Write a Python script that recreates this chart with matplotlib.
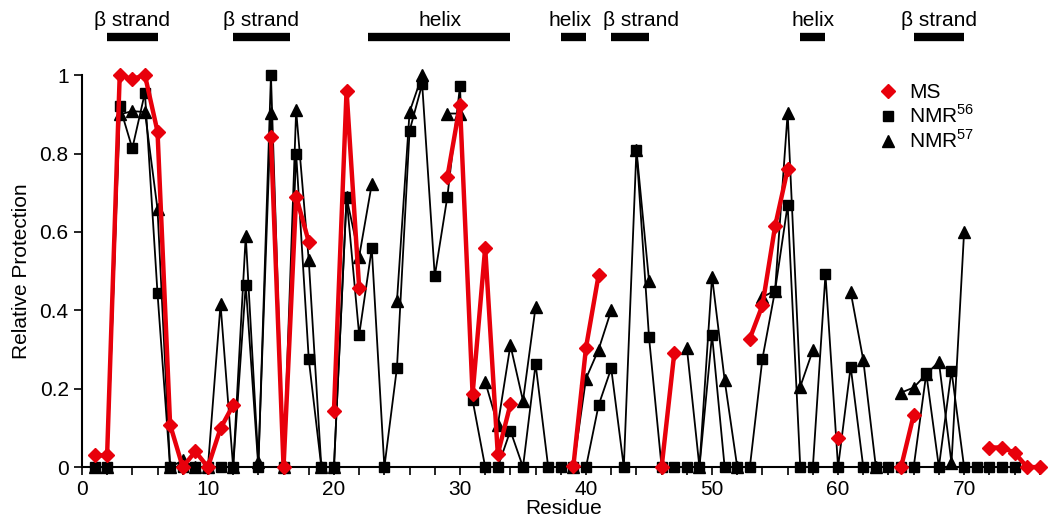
import numpy as np
import matplotlib.pyplot as plt
from matplotlib.lines import Line2D
from matplotlib.ticker import MultipleLocator

plt.rcParams['font.family'] = ['Liberation Sans', 'DejaVu Sans']

nan = np.nan
residues = np.arange(1, 77)

# relative protection per residue (nan = no data)
ms = [0.03, 0.03, 1.0, 0.99, 1.0, 0.856, 0.108, 0, 0.04, 0,
      0.099, 0.158, nan, nan, 0.841, 0, 0.69, 0.575, nan, 0.144,
      0.96, 0.457, nan, nan, nan, nan, nan, nan, 0.74, 0.925,
      0.186, 0.56, 0.033, 0.16, nan, nan, nan, nan, 0.003, 0.305,
      0.49, nan, nan, nan, nan, 0, 0.29, nan, nan, nan,
      nan, nan, 0.328, 0.413, 0.614, 0.76, nan, nan, nan, 0.073,
      nan, nan, nan, nan, 0, 0.133, nan, nan, nan, nan,
      nan, 0.05, 0.05, 0.037, 0, 0]

nmr56 = [0, 0, 0.921, 0.813, 0.955, 0.443, 0, 0, 0, 0,
         0, 0, 0.465, 0, 1.0, 0, 0.80, 0.276, 0, 0,
         0.688, 0.337, 0.558, 0, 0.254, 0.858, 0.977, 0.487, 0.69, 0.972,
         0.171, 0, 0, 0.093, 0, 0.263, 0, 0, 0, 0,
         0.158, 0.252, 0, 0.81, 0.331, 0, 0, 0, 0, 0.337,
         0, 0, 0, 0.277, 0.45, 0.669, 0, 0, 0.492, 0,
         0.256, 0, 0, 0, 0, 0, 0.239, 0, 0.246, 0,
         0, 0, 0, 0, nan, nan]

nmr57 = [0, 0, 0.90, 0.908, 0.906, 0.658, 0, 0.017, 0, 0,
         0.416, 0, 0.59, 0.012, 0.903, 0, 0.91, 0.528, 0, 0,
         0.688, 0.537, 0.722, nan, 0.424, 0.906, 1.0, nan, 0.902, 0.902,
         nan, 0.218, 0.107, 0.311, 0.169, 0.409, nan, nan, 0, 0.226,
         0.30, 0.40, nan, 0.81, 0.475, nan, nan, 0.305, 0, 0.486,
         0.222, 0, nan, 0.434, 0.45, 0.904, 0.205, 0.298, nan, nan,
         0.447, 0.273, 0, nan, 0.19, 0.203, 0.237, 0.269, 0.01, 0.60,
         nan, nan, nan, nan, nan, nan]

# secondary structure along the top
ss_labels = ['β strand', 'β strand', 'helix', 'helix', 'β strand', 'helix', 'β strand']
ss_start = [2, 12, 22.7, 38, 42, 57, 66]
ss_end = [6, 16.5, 34, 40, 45, 59, 70]
ss_text_x = [4, 14.2, 28.4, 38.7, 44.4, 58, 68]

red = '#e8000b'

fig = plt.figure(figsize=(10.5, 5.29), dpi=100)
ax = fig.add_axes([0.078, 0.117, 0.917, 0.741])

ax.plot(residues, nmr57, color='black', lw=1.3, marker='^', ms=9, clip_on=False, zorder=3)
ax.plot(residues, nmr56, color='black', lw=1.3, marker='s', ms=7.5, clip_on=False, zorder=4)
ax.plot(residues, ms, color=red, lw=3.2, marker='D', ms=7.5, mec=red, clip_on=False, zorder=5)

ax.set_xlim(0, 76.4)
ax.set_ylim(0, 1)
ax.xaxis.set_major_locator(MultipleLocator(10))
ax.xaxis.set_minor_locator(MultipleLocator(2))
ax.set_yticks([0, 0.2, 0.4, 0.6, 0.8, 1])
ax.set_yticklabels(['0', '0.2', '0.4', '0.6', '0.8', '1'])
ax.tick_params(which='both', direction='out', length=6, width=1.2, labelsize=15)
for s in ['top', 'right']:
    ax.spines[s].set_visible(False)
for s in ['left', 'bottom']:
    ax.spines[s].set_linewidth(1.5)

ax.set_xlabel('Residue', fontsize=15, labelpad=0)
ax.set_ylabel('Relative Protection', fontsize=15, labelpad=6)

# secondary structure bars
tr = ax.get_xaxis_transform()
for lab, a, b, tx in zip(ss_labels, ss_start, ss_end, ss_text_x):
    ax.plot([a, b], [1.097, 1.097], color='black', lw=6, transform=tr, clip_on=False,
            solid_capstyle='butt')
    ax.text(tx, 1.14, lab, transform=tr, ha='center', va='center', fontsize=15)

handles = [Line2D([], [], color=red, marker='D', ls='none', ms=7),
           Line2D([], [], color='black', marker='s', ls='none', ms=7),
           Line2D([], [], color='black', marker='^', ls='none', ms=8)]
labels = ['MS', 'NMR$^{\\mathregular{56}}$', 'NMR$^{\\mathregular{57}}$']
ax.legend(handles, labels, loc='upper left', bbox_to_anchor=(0.82, 1.0), frameon=False,
          fontsize=15, handlelength=0.8, handletextpad=0.6, labelspacing=0.1, borderaxespad=0)

fig.savefig('out.png', dpi=100)
